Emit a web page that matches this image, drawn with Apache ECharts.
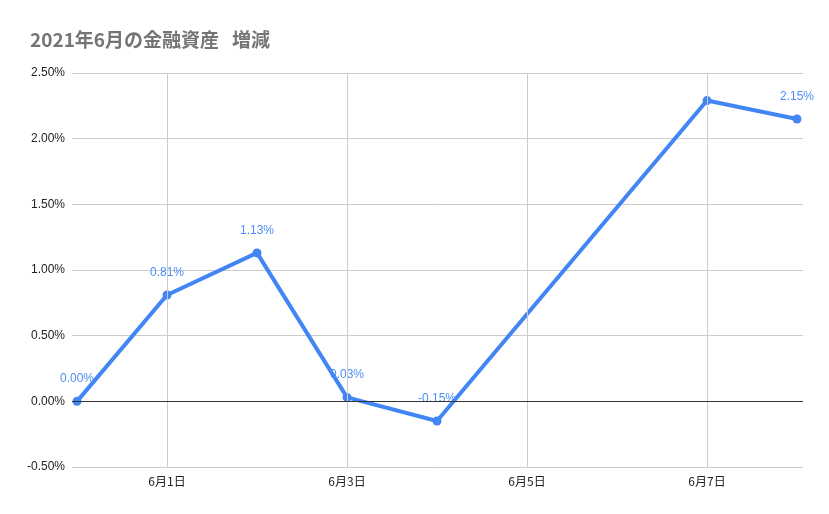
<!DOCTYPE html>
<html>
<head>
<meta charset="utf-8">
<script src="https://cdn.jsdelivr.net/npm/echarts@6/dist/echarts.min.js"></script>
<style>
  html, body { margin: 0; padding: 0; background: #fff; }
  #myChart { width: 829px; height: 514px; }
</style>
</head>
<body>
<div id="myChart"></div>
<script>
// 日付（5/31 〜 6/8、週末は値なし）
var categories = ['5月31日', '6月1日', '6月2日', '6月3日', '6月4日', '6月5日', '6月6日', '6月7日', '6月8日'];
// 増減率 (%)
var values = [0.00, 0.81, 1.13, 0.03, -0.15, null, null, 2.29, 2.15];
// ラベルを出さない点
var hiddenLabels = [7];
var yTicks = [-0.5, 0, 0.5, 1.0, 1.5, 2.0, 2.5];
var xLabelIdx = [1, 3, 5, 7];

var seriesData = [];
values.forEach(function (v, i) {
    if (v === null) return;
    var item = { value: [i, v] };
    if (hiddenLabels.indexOf(i) >= 0) item.label = { show: false };
    seriesData.push(item);
});

var myChart = echarts.init(document.getElementById('myChart'));
var option = {
    animation: false,
    title: {
        text: '2021年6月の金融資産   増減',
        left: 25,
        top: 25,
        textStyle: {
            fontFamily: 'Noto Sans CJK JP',
            fontSize: 19,
            fontWeight: 'bold',
            color: '#757575'
        }
    },
    grid: { left: 72, right: 26, top: 73, bottom: 47 },
    xAxis: {
        type: 'value',
        min: -5 / 90,
        max: 8 + 6 / 90,
        axisLine: { show: false },
        axisTick: { show: false },
        splitLine: { show: false },
        axisLabel: {
            customValues: xLabelIdx,
            formatter: function (v) { return categories[Math.round(v)]; },
            color: '#222',
            fontSize: 12,
            margin: 8,
            fontFamily: 'Noto Sans CJK JP'
        }
    },
    yAxis: {
        type: 'value',
        min: yTicks[0],
        max: yTicks[yTicks.length - 1],
        interval: 0.5,
        axisLine: { show: false },
        axisTick: { show: false },
        splitLine: { lineStyle: { color: '#cccccc', width: 1 } },
        axisLabel: {
            formatter: function (v) { return v.toFixed(2) + '%'; },
            color: '#222',
            fontSize: 12,
            margin: 7,
            fontFamily: 'Liberation Sans'
        }
    },
    series: [
        {
            type: 'line',
            data: seriesData,
            symbol: 'circle',
            symbolSize: 9,
            lineStyle: { color: '#4285f4', width: 4 },
            itemStyle: { color: '#4285f4' },
            label: {
                show: true,
                position: 'top',
                distance: 12,
                color: '#4d8ef5',
                fontSize: 12,
                fontFamily: 'Liberation Sans',
                formatter: function (p) { return p.value[1].toFixed(2) + '%'; }
            },
            z: 3,
            markLine: {
                silent: true,
                symbol: 'none',
                label: { show: false },
                animation: false,
                data: xLabelIdx.map(function (i) {
                    return { xAxis: i, lineStyle: { color: '#cccccc', width: 1, type: 'solid' } };
                }).concat([{ yAxis: 0, lineStyle: { color: '#333333', width: 1, type: 'solid' } }])
            }
        }
    ]
};
myChart.setOption(option);
</script>
</body>
</html>
